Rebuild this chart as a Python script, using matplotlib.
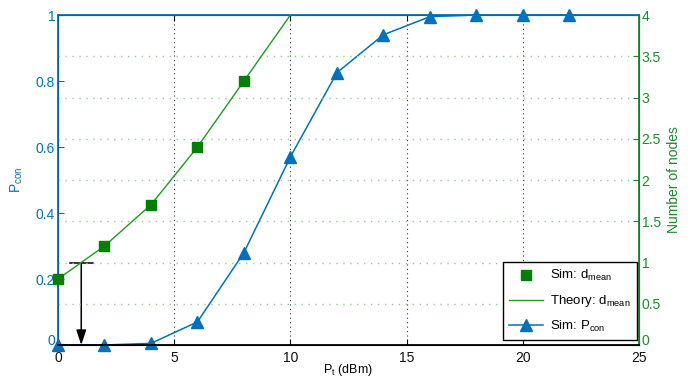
import matplotlib
matplotlib.use("Agg")
import matplotlib.pyplot as plt
import matplotlib.transforms as mtransforms
from matplotlib.lines import Line2D

# Transmit power (dBm)
pt_sim = [0, 2, 4, 6, 8]
d_mean_sim = [0.8, 1.2, 1.7, 2.4, 3.2]
pt_theory = [0, 2, 4, 6, 8, 10]
d_mean_theory = [0.8, 1.2, 1.7, 2.4, 3.2, 4.0]
pt_pcon = [0, 2, 4, 6, 8, 10, 12, 14, 16, 18, 20, 22]
p_con = [0.0, 0.0, 0.005, 0.07, 0.28, 0.57, 0.825, 0.94, 0.995, 1.0, 1.0, 1.0]

# Annotation: threshold marker
arrow_x = 1
arrow_y = 0.25

x_ticks = [0, 5, 10, 15, 20, 25]
left_ticks = [0, 0.2, 0.4, 0.6, 0.8, 1]
left_labels = ["0", "0.2", "0.4", "0.6", "0.8", "1"]
right_ticks = [0, 0.5, 1, 1.5, 2, 2.5, 3, 3.5, 4]
right_labels = ["0", "0.5", "1", "1.5", "2", "2.5", "3", "3.5", "4"]

BLUE = "#0072BD"
GREEN = "#008000"
AXGREEN = "#1b8a2a"

plt.rcParams["font.family"] = ["Liberation Sans", "DejaVu Sans"]
plt.rcParams["mathtext.default"] = "regular"
fig = plt.figure(figsize=(6.94, 3.79), dpi=100)
ax = fig.add_axes([0.0836, 0.0897, 0.8371, 0.8707])
ax2 = ax.twinx()

ax.set_xlim(0, 25)
ax.set_ylim(0, 1)
ax2.set_ylim(0, 4)

# grid: vertical dark dotted, horizontal light green dotted (right axis ticks)
for xv in x_ticks[1:-1]:
    ax.axvline(xv, color="#333333", linestyle=(0, (1, 3)), linewidth=0.8, zorder=0)
for yv in right_ticks[1:-1]:
    ax2.axhline(yv, color="#8fcf8f", linestyle=(0, (1, 4)), linewidth=1.0, zorder=0)

# P_con curve
ax.plot(pt_pcon, p_con, color=BLUE, marker="^", markersize=8, linewidth=1.1,
        clip_on=False, zorder=5)

# d_mean
ax2.plot(pt_theory, d_mean_theory, color="#1e9a1e", linewidth=1.0, zorder=4)
ax2.plot(pt_sim, d_mean_sim, linestyle="none", marker="s", markersize=7,
         color=GREEN, clip_on=False, zorder=5)

# threshold arrow
ax.plot([arrow_x - 0.5, arrow_x + 0.5], [arrow_y, arrow_y], color="black", linewidth=1.1, zorder=6)
ax.annotate("", xy=(arrow_x, 0.0), xytext=(arrow_x, arrow_y),
            arrowprops=dict(arrowstyle="-|>,head_length=0.9,head_width=0.3",
                            color="black", lw=1.1, shrinkA=0, shrinkB=0), zorder=6)

ax.set_xticks(x_ticks)
ax.set_xticklabels([str(v) for v in x_ticks], fontsize=10, color="#111111")
ax.set_yticks(left_ticks)
ax.set_yticklabels(left_labels, fontsize=10, color=BLUE)
ax.tick_params(axis="y", colors=BLUE, direction="in", length=4, labelcolor=BLUE, pad=2)
ax.tick_params(axis="x", direction="in", length=4, top=True, colors="#111111", pad=4)
ax2.set_yticks(right_ticks)
ax2.set_yticklabels(right_labels, fontsize=10, color=AXGREEN)
ax2.tick_params(axis="y", colors=AXGREEN, direction="in", length=4, labelcolor=AXGREEN, pad=2)

# lift the lowest right-hand label a little so it clears the "25" below it
lift = mtransforms.ScaledTranslation(0, 4 / 72, fig.dpi_scale_trans)
for side_ax in (ax, ax2):
    lbl = side_ax.get_yticklabels()[0]
    lbl.set_transform(lbl.get_transform() + lift)

ax.set_xlabel("P$_t$ (dBm)", fontsize=9, va="top")
ax.xaxis.set_label_coords(0.5, -0.05)
ax.set_ylabel("P$_{con}$", fontsize=10, color=BLUE, labelpad=8)
ax2.set_ylabel("Number of nodes", fontsize=10, color=AXGREEN, labelpad=4)

for s in ["left", "top"]:
    ax2.spines[s].set_color(BLUE)
ax2.spines["bottom"].set_color("black")
ax2.spines["right"].set_color(AXGREEN)
for sp in ax2.spines.values():
    sp.set_linewidth(1.3)
ax.patch.set_visible(False)

handles = [
    Line2D([], [], linestyle="none", marker="s", markersize=7, color=GREEN),
    Line2D([], [], color="#1e9a1e", linewidth=1.0),
    Line2D([], [], color=BLUE, marker="^", markersize=8, linewidth=1.1),
]
labels = ["Sim: d$_{mean}$", "Theory: d$_{mean}$", "Sim: P$_{con}$"]
leg = ax2.legend(handles, labels, loc="lower right", bbox_to_anchor=(0.996, 0.015),
                 borderaxespad=0, fontsize=9.5, frameon=True, fancybox=False,
                 framealpha=1, edgecolor="black", borderpad=0.45, handlelength=2.6,
                 handletextpad=0.5, labelspacing=0.75)
leg.get_frame().set_linewidth(1.0)
leg.set_zorder(10)

fig.savefig("out.png", dpi=100)
